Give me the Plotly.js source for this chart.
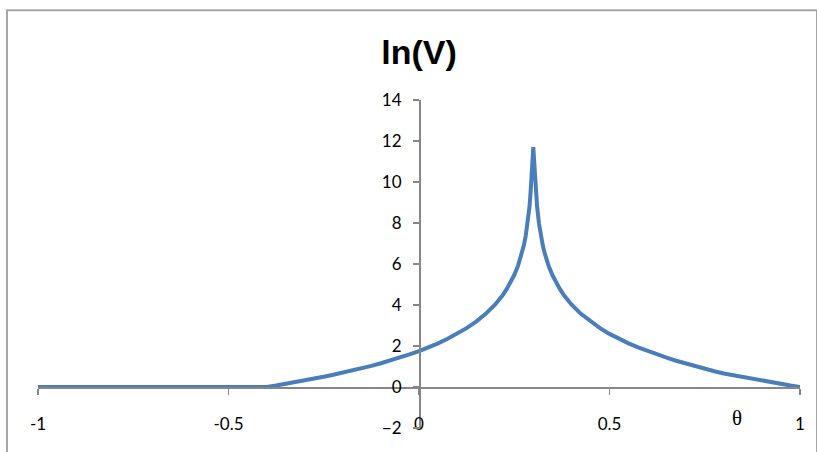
<!DOCTYPE html>
<html>
<head>
<meta charset="utf-8">
<script src="https://cdn.plot.ly/plotly-3.0.1.min.js"></script>
<style>html,body{margin:0;padding:0;background:#fff;}#chart{width:817px;height:452px;}</style>
</head>
<body>
<div id="chart"></div>
<script>
// theta values and ln(V) values
var theta = [-1, -0.9, -0.8, -0.7, -0.6, -0.5, -0.4, -0.375, -0.35, -0.325, -0.3, -0.275, -0.25, -0.225,
             -0.2, -0.175, -0.15, -0.125, -0.1, -0.075, -0.05, -0.025, 0,
             0.025, 0.05, 0.075, 0.1, 0.125, 0.15, 0.175, 0.2, 0.21, 0.22, 0.23, 0.24, 0.25, 0.26,
             0.265, 0.27, 0.275, 0.28, 0.285, 0.29, 0.2925, 0.295, 0.2975, 0.3,
             0.3025, 0.305, 0.3075, 0.31, 0.315, 0.32, 0.325, 0.33, 0.335, 0.34, 0.35, 0.36, 0.37,
             0.38, 0.39, 0.4, 0.425, 0.45, 0.475, 0.5, 0.525, 0.55, 0.575, 0.6,
             0.625, 0.65, 0.675, 0.7, 0.725, 0.75, 0.775, 0.8, 0.825, 0.85, 0.875, 0.9, 0.925, 0.95, 0.975, 1];
var lnV =   [0, 0, 0, 0, 0, 0, 0, 0.07, 0.15, 0.23, 0.32, 0.41, 0.5, 0.6,
             0.7, 0.8, 0.92, 1.03, 1.16, 1.29, 1.43, 1.59, 1.75,
             1.93, 2.13, 2.35, 2.59, 2.87, 3.19, 3.57, 4.03, 4.25, 4.49, 4.77, 5.09, 5.46, 5.92,
             6.2, 6.52, 6.9, 7.36, 7.96, 8.79, 9.39, 10.2, 10.95, 11.7,
             10.95, 10.2, 9.39, 8.79, 7.96, 7.36, 6.9, 6.52, 6.2, 5.92, 5.46, 5.09, 4.77,
             4.49, 4.25, 4.03, 3.57, 3.19, 2.87, 2.59, 2.35, 2.13, 1.93, 1.75,
             1.58, 1.43, 1.28, 1.14, 1.0, 0.88, 0.77, 0.66, 0.57, 0.48, 0.39, 0.31, 0.23, 0.15, 0.07, 0];
var xTickVals = [-1, -0.5, 0, 0.5, 1];
var xTickText = ['-1', '-0.5', '0', '0.5', '1'];
var yTickVals = [-2, 0, 2, 4, 6, 8, 10, 12, 14];
var titleText = 'ln(V)';
var xLabel = 'θ';

var tickFont = {family: 'Lato, "Open Sans", sans-serif', size: 17, color: '#000'};
var axisColor = '#868686';

var data = [{
  x: theta, y: lnV, type: 'scatter', mode: 'lines',
  line: {color: '#4a7ebb', width: 4},
  hoverinfo: 'skip'
}];

var layout = {
  width: 817, height: 452,
  margin: {l: 38, r: 17, t: 100, b: 24},
  paper_bgcolor: '#fff', plot_bgcolor: 'rgba(0,0,0,0)',
  showlegend: false,
  title: {text: '<b>' + titleText + '</b>', x: 0.5, xref: 'paper', xanchor: 'center',
          y: 1 - 52/452, yref: 'container', yanchor: 'middle',
          font: {family: '"Liberation Sans Narrow", "Liberation Sans", sans-serif', size: 34, color: '#000'}},
  xaxis: {
    range: [-1, 1], anchor: 'free', position: 0.125,
    showgrid: false, zeroline: false, showline: true, linecolor: axisColor, linewidth: 1.5,
    ticks: 'outside', ticklen: 6, tickcolor: axisColor, tickwidth: 1.5,
    tickvals: xTickVals, ticktext: xTickText, tickfont: tickFont, ticklabelstandoff: 15,
    fixedrange: true
  },
  yaxis: {
    range: [-2, 14], anchor: 'free', position: 0.5,
    showgrid: false, zeroline: false, showline: true, linecolor: axisColor, linewidth: 1.5,
    ticks: 'outside', ticklen: 6, tickcolor: axisColor, tickwidth: 1.5,
    tickvals: yTickVals, tickfont: tickFont, ticklabelstandoff: 8,
    fixedrange: true
  },
  annotations: [{
    text: xLabel, xref: 'x', yref: 'y', x: 0.835, y: -1.5, showarrow: false,
    font: {family: '"Liberation Serif", serif', size: 21, color: '#000'}
  }],
  shapes: [{
    type: 'rect', xref: 'paper', yref: 'paper',
    x0: -0.0407, x1: 1.0223, y0: -0.1, y1: 1.274,
    line: {color: '#a6a6a6', width: 2}, layer: 'below'
  }]
};

Plotly.newPlot('chart', data, layout, {displayModeBar: false, staticPlot: true});
</script>
</body>
</html>
